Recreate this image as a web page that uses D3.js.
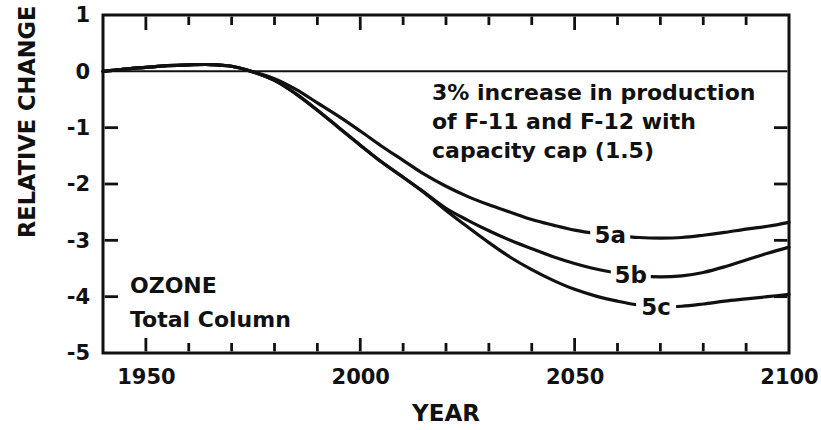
<!DOCTYPE html>
<html>
<head>
<meta charset="utf-8">
<script src="https://cdn.jsdelivr.net/npm/d3@7"></script>
</head>
<body style="margin:0;background:#fff">
<svg id="chart" width="821" height="430" style="display:block"></svg>
<script>
// ---- data ----
const years = [1940,1945,1950,1955,1960,1965,1970,1975,1980,1985,1990,1995,2000,2005,2010,2015,2020,2025,2030,2035,2040,2045,2050,2055,2060,2065,2070,2075,2080,2085,2090,2095,2100];
const series5a = [0,0.04,0.07,0.1,0.115,0.12,0.09,-0.01,-0.13,-0.32,-0.56,-0.8,-1.06,-1.33,-1.58,-1.83,-2.04,-2.22,-2.37,-2.5,-2.63,-2.73,-2.82,-2.88,-2.92,-2.95,-2.96,-2.95,-2.91,-2.86,-2.8,-2.75,-2.68];
const series5b = [0,0.04,0.07,0.1,0.115,0.12,0.09,-0.01,-0.16,-0.4,-0.69,-1.0,-1.31,-1.61,-1.88,-2.15,-2.43,-2.64,-2.83,-3.0,-3.15,-3.29,-3.41,-3.51,-3.58,-3.63,-3.65,-3.63,-3.57,-3.47,-3.35,-3.23,-3.12];
const series5c = [0,0.04,0.07,0.1,0.115,0.12,0.09,-0.01,-0.16,-0.4,-0.69,-1.0,-1.31,-1.61,-1.88,-2.16,-2.47,-2.76,-3.04,-3.3,-3.52,-3.71,-3.87,-3.99,-4.08,-4.15,-4.18,-4.17,-4.13,-4.08,-4.04,-4.0,-3.96];
const seriesNames = ["5a","5b","5c"];
const labelYears = [2058.3, 2063.1, 2069];
const xMinorTicks = [1960,1970,1980,1990,2010,2020,2030,2040,2060,2070,2080,2090];
const xMajorTicks = [1950,2000,2050];
const xTickLabels = [1950,2000,2050,2100];
const yTickLabels = [1,0,-1,-2,-3,-4,-5];
const yInnerTicks = [-1,-2,-3,-4];
const annotation = ["3% increase in production","of F-11 and F-12 with","capacity cap (1.5)"];
const boxLabel = ["OZONE","Total Column"];
const xTitle = "YEAR";
const yTitle = "RELATIVE CHANGE";

// ---- layout ----
const svg = d3.select("#chart");
const FONT = "DejaVu Sans, sans-serif";
const L0 = 103, R0 = 789, T0 = 15, B0 = 353;
const xs = d3.scaleLinear().domain([1940, 2100]).range([L0, R0]);
const ys = d3.scaleLinear().domain([-5, 1]).range([B0, T0]);
const ink = "#111";
const gap = 1.6; // ticks start just inside the frame stroke

function txt(sel) {
  return sel.attr("font-family", FONT).attr("font-weight", "bold").attr("fill", ink);
}

// tick labels via axes
function styleAxis(g) {
  g.select(".domain").remove();
  g.selectAll(".tick line").remove();
  g.selectAll(".tick text").attr("font-size", 21).call(txt);
}
svg.append("g").attr("transform", `translate(0,${B0})`)
  .call(d3.axisBottom(xs).tickValues(xTickLabels).tickSize(0).tickPadding(16).tickFormat(d3.format("d"))).call(styleAxis);
svg.append("g").attr("transform", `translate(${L0},0)`)
  .call(d3.axisLeft(ys).tickValues(yTickLabels).tickSize(0).tickPadding(13).tickFormat(d => d < 0 ? "-" + Math.abs(d) : String(d))).call(styleAxis);

// frame
svg.append("rect").attr("x", L0).attr("y", T0).attr("width", R0 - L0).attr("height", B0 - T0)
  .attr("fill", "none").attr("stroke", ink).attr("stroke-width", 3);

// zero line
svg.append("line").attr("x1", L0 + gap).attr("x2", R0 - gap).attr("y1", ys(0)).attr("y2", ys(0))
  .attr("stroke", ink).attr("stroke-width", 2);

// inward tick marks (positions from the scales)
const xTickData = xMinorTicks.map(v => ({v, len: 10})).concat(xMajorTicks.map(v => ({v, len: 15})));
const tickG = svg.append("g").attr("stroke", ink).attr("stroke-width", 2.8);
tickG.selectAll("line.tt").data(xTickData).join("line").attr("class", "tt")
  .attr("x1", d => xs(d.v)).attr("x2", d => xs(d.v)).attr("y1", T0 + gap).attr("y2", d => T0 + d.len)
  .attr("stroke", ink);
tickG.selectAll("line.bt").data(xTickData).join("line").attr("class", "bt")
  .attr("x1", d => xs(d.v)).attr("x2", d => xs(d.v)).attr("y1", B0 - gap).attr("y2", d => B0 - d.len)
  .attr("stroke", ink);
tickG.selectAll("line.lt").data(yInnerTicks).join("line").attr("class", "lt")
  .attr("x1", L0 + gap).attr("x2", L0 + 15).attr("y1", d => ys(d)).attr("y2", d => ys(d))
  .attr("stroke", ink);
tickG.selectAll("line.rt").data(yInnerTicks).join("line").attr("class", "rt")
  .attr("x1", R0 - gap).attr("x2", R0 - 15).attr("y1", d => ys(d)).attr("y2", d => ys(d))
  .attr("stroke", ink);

// curves
const allSeries = [series5a, series5b, series5c];
const line = d3.line().x(d => xs(d[0])).y(d => ys(d[1])).curve(d3.curveCatmullRom.alpha(0.5));
allSeries.forEach(s => {
  svg.append("path").datum(years.map((yr, i) => [yr, s[i]]))
    .attr("d", line).attr("fill", "none").attr("stroke", ink).attr("stroke-width", 3.2)
    .attr("stroke-linecap", "round");
});

// curve labels with white gap
function valueAt(s, yr) {
  const i = d3.bisectRight(years, yr) - 1;
  const t = (yr - years[i]) / (years[i + 1] - years[i]);
  return s[i] + t * (s[i + 1] - s[i]);
}
seriesNames.forEach((name, k) => {
  const cx = xs(labelYears[k]), cy = ys(valueAt(allSeries[k], labelYears[k]));
  const g = svg.append("g");
  g.append("rect").attr("x", cx - 20).attr("y", cy - 8).attr("width", 40).attr("height", 16)
    .attr("fill", "#fff");
  g.append("text").attr("x", cx).attr("y", cy).attr("dy", "0.36em")
    .attr("text-anchor", "middle").attr("font-size", 23).call(txt).text(name);
});

// annotation
svg.append("text").attr("x", 432).attr("y", 100).attr("font-size", 22).call(txt)
  .selectAll("tspan").data(annotation).join("tspan")
  .attr("x", 432).attr("dy", (d, i) => i === 0 ? 0 : 29).text(d => d);

// box label
svg.append("text").attr("x", 130).attr("y", 293).attr("font-size", 22).call(txt)
  .selectAll("tspan").data(boxLabel).join("tspan")
  .attr("x", 130).attr("dy", (d, i) => i === 0 ? 0 : 34).text(d => d);

// axis titles
svg.append("text").attr("x", (L0 + R0) / 2).attr("y", 421).attr("text-anchor", "middle")
  .attr("font-size", 23).call(txt).text(xTitle);
svg.append("text").attr("transform", "translate(35,238) rotate(-90)")
  .attr("font-size", 22.5).call(txt).text(yTitle);
</script>
</body>
</html>
